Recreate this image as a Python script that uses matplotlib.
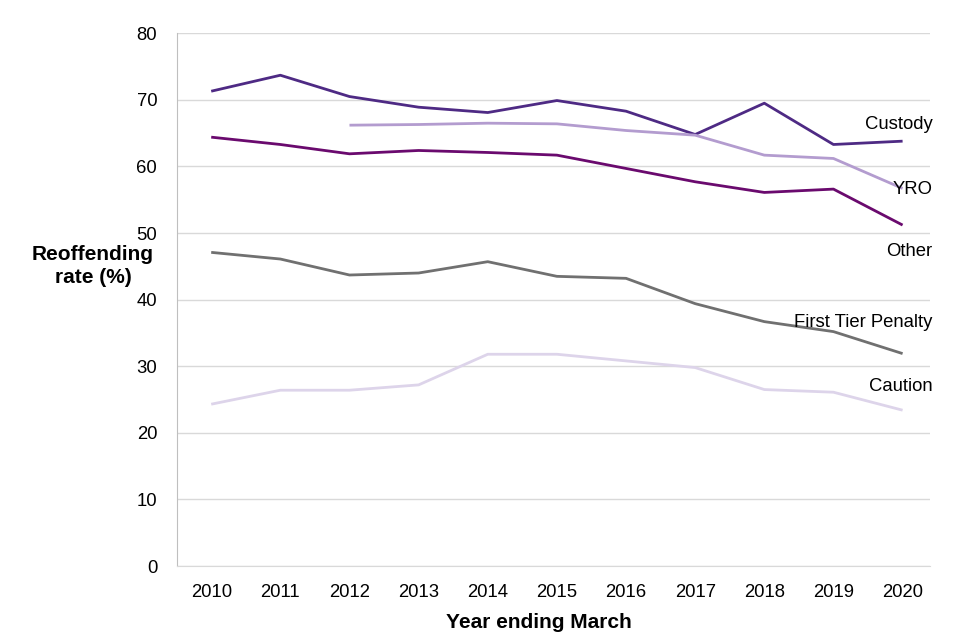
import matplotlib
matplotlib.use('Agg')
import matplotlib.pyplot as plt

plt.rcParams['font.family'] = ['Liberation Sans', 'DejaVu Sans']

years = [2010, 2011, 2012, 2013, 2014, 2015, 2016, 2017, 2018, 2019, 2020]
custody = [71.3, 73.7, 70.5, 68.9, 68.1, 69.9, 68.3, 64.8, 69.5, 63.3, 63.8]
yro_years = years[2:]
yro = [66.2, 66.3, 66.5, 66.4, 65.4, 64.7, 61.7, 61.2, 56.7]
other = [64.4, 63.3, 61.9, 62.4, 62.1, 61.7, 59.7, 57.7, 56.1, 56.6, 51.2]
first_tier = [47.1, 46.1, 43.7, 44.0, 45.7, 43.5, 43.2, 39.4, 36.7, 35.2, 31.9]
caution = [24.3, 26.4, 26.4, 27.2, 31.8, 31.8, 30.8, 29.8, 26.5, 26.1, 23.4]

series = [
    ('Custody', years, custody, '#4e2a84', 66.3),
    ('YRO', yro_years, yro, '#b39ccf', 56.6),
    ('Other', years, other, '#6a0a6e', 47.3),
    ('First Tier Penalty', years, first_tier, '#707070', 36.6),
    ('Caution', years, caution, '#ddd4ea', 27.0),
]

fig = plt.figure(figsize=(9.6, 6.4), dpi=100)
ax = fig.add_axes([0.184, 0.1156, 0.785, 0.8324])

for name, xs, ys, col, label_y in series:
    ax.plot(xs, ys, color=col, linewidth=2.0, solid_capstyle='butt')
    ax.text(2020.43, label_y, name, ha='right', va='center', fontsize=13.3, color='black')

ax.set_xlim(2009.5, 2020.4)
ax.set_ylim(0, 80)
ax.set_yticks(range(0, 81, 10))
ax.set_xticks(years)
ax.yaxis.grid(True, color='#d9d9d9', linewidth=1)
ax.set_axisbelow(True)
for s in ['top', 'right']:
    ax.spines[s].set_visible(False)
ax.spines['left'].set_color('#bfbfbf')
ax.spines['bottom'].set_color('#d9d9d9')
ax.tick_params(length=0, labelsize=13.3, pad=13)
ax.tick_params(axis='y', pad=14)

fig.text(0.097, 0.584, 'Reoffending\nrate (%)', ha='center', va='center',
         fontsize=15, fontweight='bold', linespacing=1.3)
fig.text(0.561, 0.028, 'Year ending March', ha='center', va='center',
         fontsize=15, fontweight='bold')

fig.savefig('out.png', dpi=100)
